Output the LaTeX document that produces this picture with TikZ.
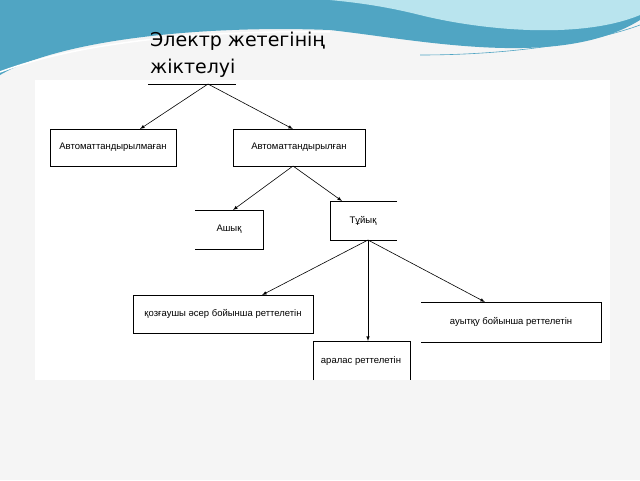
\documentclass[tikz,border=0pt]{standalone}
\usepackage{fontspec}
\setmainfont{DejaVu Sans}
\newfontfamily\boxfont{Liberation Sans}
\definecolor{wavedark}{RGB}{80,165,195}
\definecolor{wavelight}{RGB}{185,228,238}
\begin{document}
\begin{tikzpicture}[x=1pt,y=-1pt,
	lbl/.style={font=\boxfont\fontsize{9.5}{11}\selectfont,inner sep=0pt},
	edge/.style={line width=0.8pt},
	arr/.style={-latex,line width=0.6pt}]
	\useasboundingbox (0,0) rectangle (640,480);
	\fill[gray!8] (0,0) rectangle (640,480);
	\fill[white] (35,80) rectangle (610,380);
	% wave at the top
	\fill[wavedark] (0,0) -- (640,0) -- (640,20) .. controls (560,70) and (420,40) .. (330,30) .. controls (200,25) and (60,40) .. (0,75) -- cycle;
	\fill[wavelight] (330,0) -- (640,0) -- (640,15) .. controls (580,40) and (480,30) .. (420,15) .. controls (380,5) and (350,2) .. (330,0);
	\draw[white,line width=1.5pt] (0,72) .. controls (80,42) and (200,30) .. (330,32);
	\draw[wavedark,line width=0.6pt] (420,55) .. controls (520,55) and (600,40) .. (640,25);
	% title
	\node[anchor=north west,align=left,inner sep=0pt,font=\fontsize{19}{27}\selectfont] (title) at (150,32) {Электр жетегінің\\жіктелуі};
	\draw[line width=0.6pt] (148,84) -- (236,84);
	\coordinate (root) at (208,84);
	% boxes
	\node[lbl] (nauto) at (113,147.5) {Автоматтандырылмаған};
	\draw[edge] (50,129) rectangle (176,166);
	\node[lbl] (auto) at (299,147.5) {Автоматтандырылған};
	\draw[edge] (233,129) rectangle (365,166);
	\node[lbl] (open) at (229,229.5) {Ашық};
	\draw[edge] (195,210) -- (263,210) -- (263,249) -- (195,249);
	\node[lbl] (closed) at (363,220.5) {Тұйық};
	\draw[edge] (397,201) -- (330,201) -- (330,240) -- (397,240);
	\node[lbl] (dist) at (223,314) {қозғаушы әсер бойынша реттелетін};
	\draw[edge] (133,295) rectangle (313,333);
	\node[lbl] (mixed) at (361,361) {аралас реттелетін};
	\draw[edge] (313,380) -- (313,341) -- (410,341) -- (410,380);
	\node[lbl] (dev) at (511,322) {ауытқу бойынша реттелетін};
	\draw[edge] (421,302) -- (601,302) -- (601,342) -- (421,342);
	% arrows
	\draw[arr] (root) -- (140,129);
	\draw[arr] (root) -- (293,129);
	\draw[arr] (293,166) -- (233,210);
	\draw[arr] (293,166) -- (342,201);
	\draw[arr] (368,240) -- (262,295);
	\draw[arr] (368,240) -- (368,341);
	\draw[arr] (368,240) -- (485,302);
\end{tikzpicture}
\end{document}
